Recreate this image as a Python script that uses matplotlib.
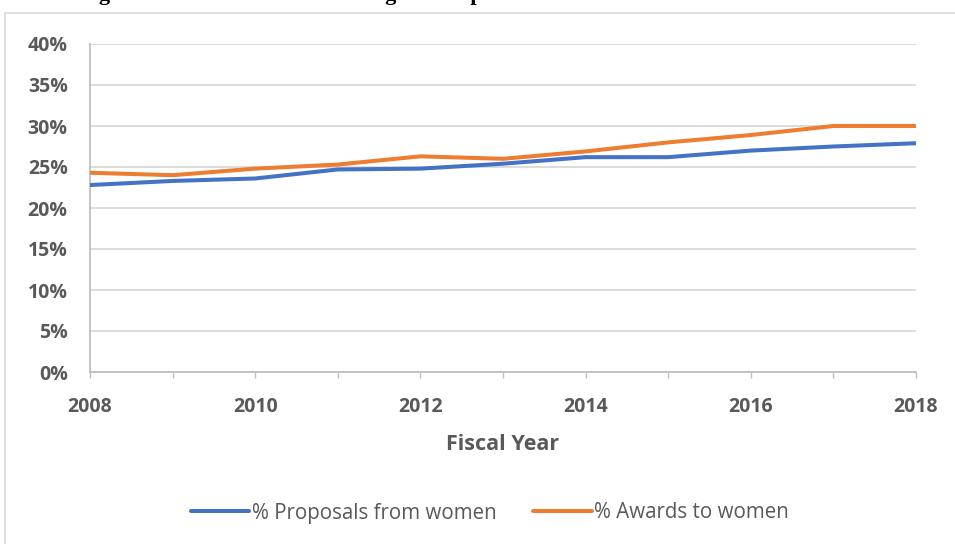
import numpy as np
import matplotlib
matplotlib.use('Agg')
import matplotlib.pyplot as plt
from matplotlib.lines import Line2D
from matplotlib.ticker import FuncFormatter

# fiscal years and shares (percent)
years = [2008, 2009, 2010, 2011, 2012, 2013, 2014, 2015, 2016, 2017, 2018]
proposals_women = [22.8, 23.3, 23.6, 24.7, 24.8, 25.4, 26.2, 26.2, 27.0, 27.5, 27.9]
awards_women = [24.3, 24.0, 24.8, 25.3, 26.3, 26.0, 26.9, 28.0, 28.9, 30.0, 30.0]
y_ticks = [0, 5, 10, 15, 20, 25, 30, 35, 40]
x_labels = [2008, 2010, 2012, 2014, 2016, 2018]

W, H = 955, 544
fig = plt.figure(figsize=(W / 100, H / 100), dpi=100)

def fx(px):     # pixel -> figure fraction (x)
    return px / W

def fy(py):     # pixel from top -> figure fraction (y)
    return 1 - py / H

# caption above the chart box
fig.text(fx(79), 1.0, "Figure 13. Women as a Percentage of Proposals and Awards",
         fontfamily='Liberation Serif', fontweight='bold', fontsize=16,
         va='baseline', ha='left', color='black')

# chart border
box_col = '#d9d9d9'
fig.add_artist(Line2D([fx(5), 1.0], [fy(13), fy(13)], color=box_col, lw=1.2))
fig.add_artist(Line2D([fx(5), fx(5)], [fy(13), 0.0], color=box_col, lw=1.2))

ax = fig.add_axes([fx(90), fy(372), fx(916) - fx(90), fy(44) - fy(372)])

blue = '#4472C4'
orange = '#ED7D31'
ax.plot(years, proposals_women, color=blue, lw=2.9, solid_capstyle='round',
        label='% Proposals from women', zorder=3)
ax.plot(years, awards_women, color=orange, lw=2.9, solid_capstyle='round',
        label='% Awards to women', zorder=3)

ax.set_xlim(years[0], years[-1])
ax.set_ylim(0, 40)
ax.set_yticks(y_ticks)
ax.yaxis.set_major_formatter(FuncFormatter(lambda v, p: '%d%%' % v))
ax.set_xticks(years)
ax.set_xticklabels([str(y) if y in x_labels else '' for y in years])

ax.grid(axis='y', color='#d9d9d9', lw=1.3, zorder=0)
ax.set_axisbelow(True)
for s in ['top', 'right']:
    ax.spines[s].set_visible(False)
for s in ['left', 'bottom']:
    ax.spines[s].set_color('#bfbfbf')
    ax.spines[s].set_linewidth(1.3)

lab_col = '#595959'
ax.tick_params(axis='y', length=0, pad=16, labelcolor=lab_col)
ax.tick_params(axis='x', length=4, width=1, color='#bfbfbf', pad=14, labelcolor=lab_col)
for t in ax.get_xticklabels() + ax.get_yticklabels():
    t.set_fontfamily('Open Sans')
    t.set_fontweight('bold')
    t.set_fontsize(14)

ax.set_xlabel('Fiscal Year', fontfamily='Open Sans', fontweight='bold',
              fontsize=15.5, color=lab_col, labelpad=12)

leg = ax.legend(loc='center', bbox_to_anchor=(fx(490), fy(513)),
                bbox_transform=fig.transFigure, ncol=2, frameon=False,
                prop=dict(family='Open Sans', size=14.8), handlelength=2.85,
                handletextpad=0.12, columnspacing=1.8)
for t in leg.get_texts():
    t.set_color(lab_col)

fig.savefig('out.png', dpi=100)
